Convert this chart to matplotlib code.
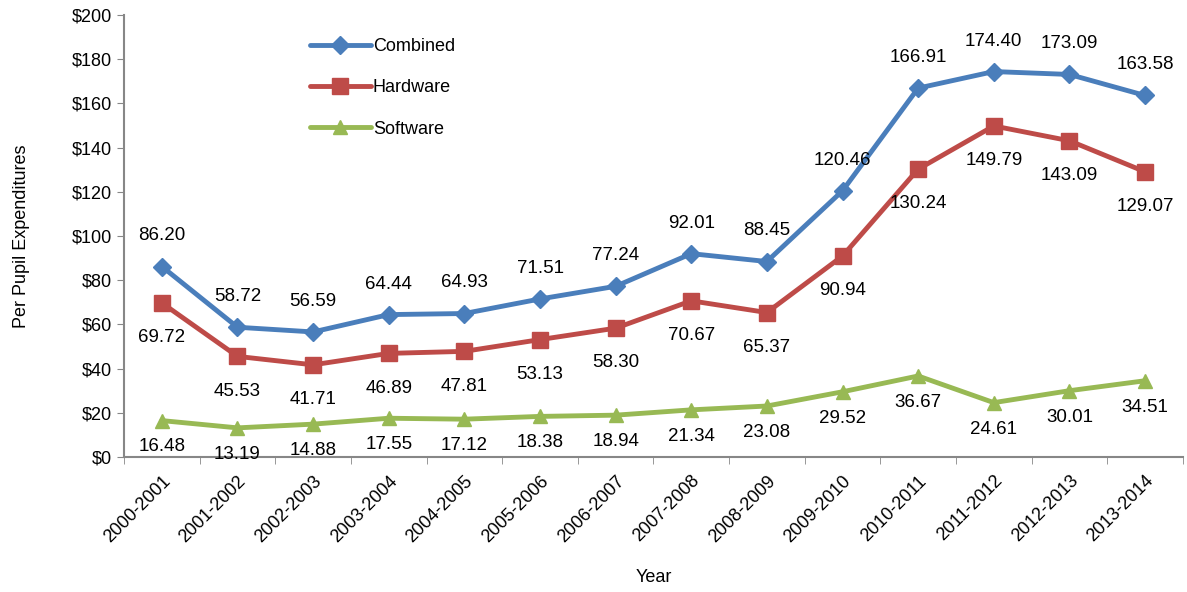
import numpy as np
import matplotlib.pyplot as plt
from matplotlib.ticker import FuncFormatter, FixedLocator

years = ['2000-2001', '2001-2002', '2002-2003', '2003-2004', '2004-2005',
         '2005-2006', '2006-2007', '2007-2008', '2008-2009', '2009-2010',
         '2010-2011', '2011-2012', '2012-2013', '2013-2014']
combined = [86.20, 58.72, 56.59, 64.44, 64.93, 71.51, 77.24, 92.01, 88.45,
            120.46, 166.91, 174.40, 173.09, 163.58]
hardware = [69.72, 45.53, 41.71, 46.89, 47.81, 53.13, 58.30, 70.67, 65.37,
            90.94, 130.24, 149.79, 143.09, 129.07]
software = [16.48, 13.19, 14.88, 17.55, 17.12, 18.38, 18.94, 21.34, 23.08,
            29.52, 36.67, 24.61, 30.01, 34.51]

plt.rcParams['font.family'] = ['Liberation Sans', 'DejaVu Sans']

fig = plt.figure(figsize=(11.87, 5.92), dpi=100)
ax = fig.add_axes([0.1045, 0.228, 0.892, 0.7467])

x = np.arange(len(years))
series = [
    ('Combined', combined, '#4a7ebb', 'D', 9, 22),
    ('Hardware', hardware, '#be4b48', 's', 11, -25),
    ('Software', software, '#98b954', '^', 10, -19),
]
for name, vals, color, marker, ms, off in series:
    ax.plot(x, vals, color=color, lw=3.5, marker=marker, ms=ms, label=name,
            solid_joinstyle='round', solid_capstyle='round')
    for xi, v in zip(x, vals):
        ax.annotate(f'{v:.2f}', (xi, v), xytext=(0, off), textcoords='offset points',
                    ha='center', va='center', fontsize=13.5)

ax.set_xlim(-0.5, len(years) - 0.5)
ax.set_ylim(0, 200)
ax.set_yticks(np.arange(0, 201, 20))
ax.yaxis.set_major_formatter(FuncFormatter(lambda v, p: f'${v:.0f}'))
ax.set_xticks(x)
ax.set_xticklabels(years, rotation=45, ha='right', rotation_mode='anchor', fontsize=13)
ax.xaxis.set_minor_locator(FixedLocator(np.arange(-0.5, len(years), 1)))
ax.tick_params(axis='x', which='major', length=0, pad=11)
ax.tick_params(axis='x', which='minor', length=5, color='#878787')
ax.tick_params(axis='y', length=5, color='#878787', labelsize=13)

for s in ['top', 'right']:
    ax.spines[s].set_visible(False)
for s in ['left', 'bottom']:
    ax.spines[s].set_color('#878787')
    ax.spines[s].set_linewidth(1.5)

ax.set_ylabel('Per Pupil Expenditures', fontsize=13, labelpad=30)
ax.set_xlabel('Year', fontsize=13, labelpad=17)

ax.legend(loc='upper left', bbox_to_anchor=(0.16, 0.985), frameon=False,
          fontsize=13, labelspacing=1.35, handlelength=3.4, handletextpad=0.1)

fig.savefig('out.png', dpi=100)
